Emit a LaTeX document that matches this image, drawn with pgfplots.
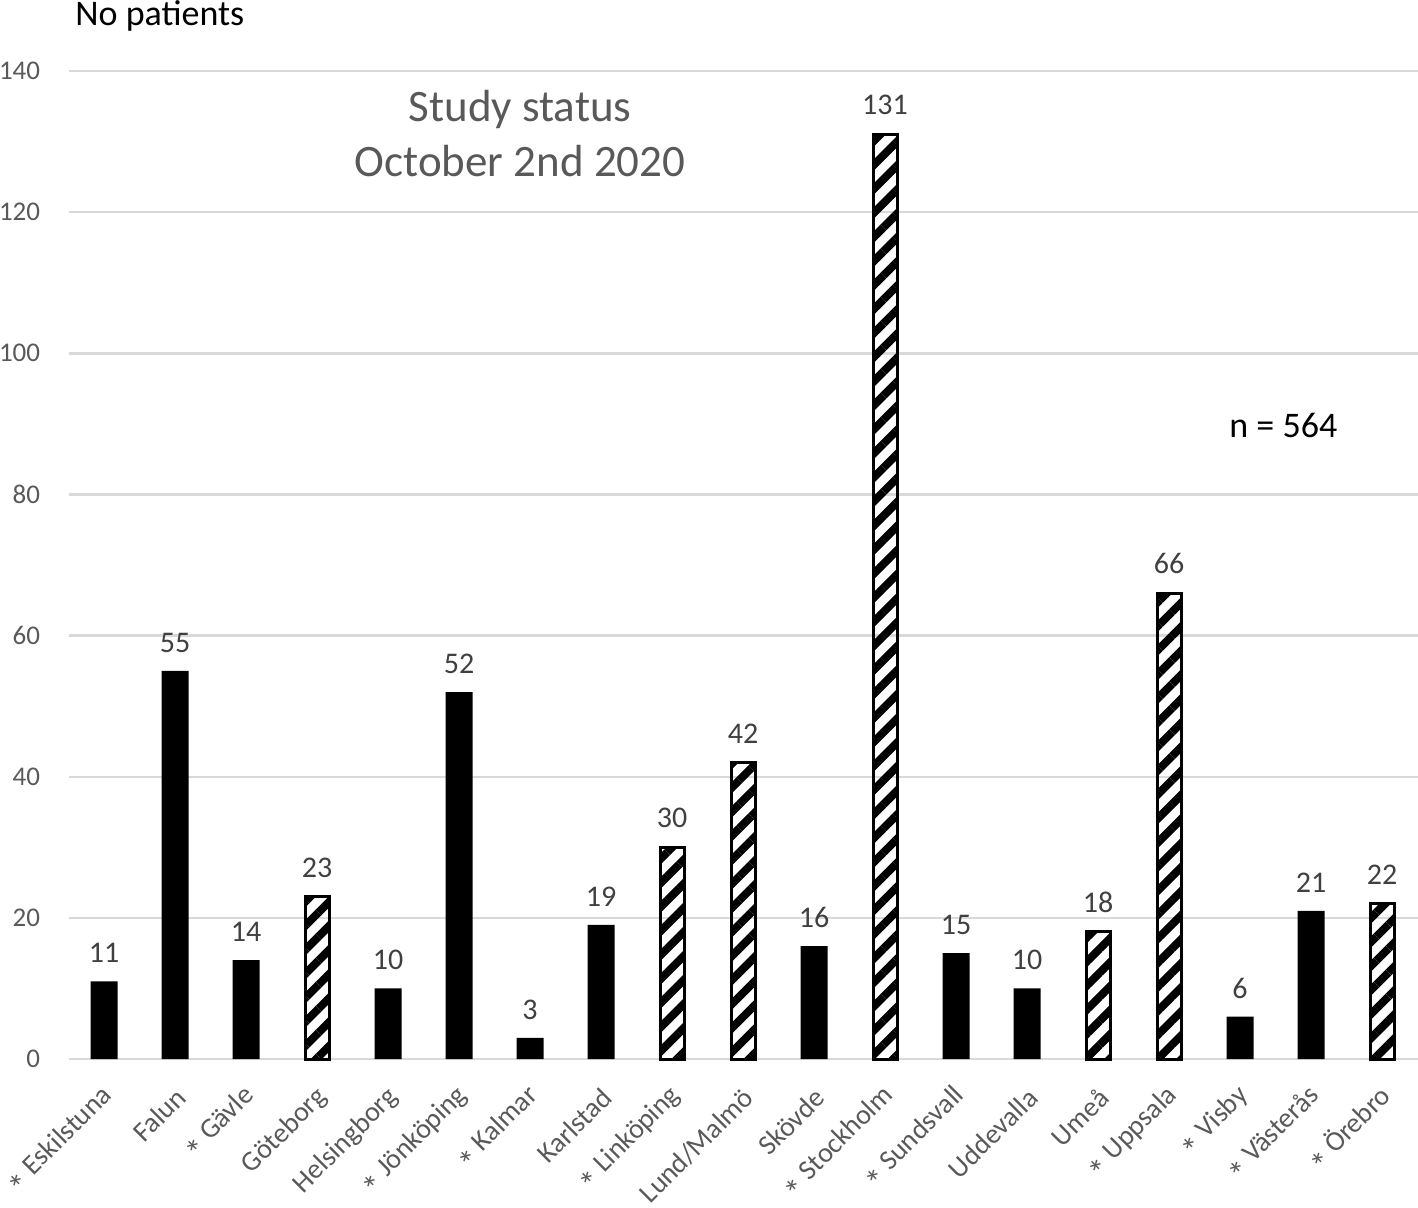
\documentclass[border=0pt]{standalone}
\usepackage{pgfplots}
\pgfplotsset{compat=1.18}
\usepackage{fontspec}
\setmainfont{Carlito}
\usetikzlibrary{patterns.meta}
\definecolor{txtgrey}{HTML}{595959}
\definecolor{valgrey}{HTML}{404040}
\definecolor{gridgrey}{HTML}{D9D9D9}
\newcommand{\st}{\raisebox{-0.35em}{\fontsize{17.5}{18}\selectfont *}}
\begin{document}
\begin{tikzpicture}
\path[use as bounding box] (0,0) rectangle (709pt,-603.5pt);
\begin{axis}[
  at={(34.25pt,-529.5pt)}, anchor=south west,
  scale only axis, width=674.5pt, height=494pt,
  xmin=-0.5, xmax=18.5, ymin=0, ymax=140,
  ytick={0,20,...,140},
  xtick={0,...,18},
  xticklabels={{\st{} Eskilstuna},{Falun},{\st{} Gävle},{Göteborg},{Helsingborg},{\st{} Jönköping},{\st{} Kalmar},{Karlstad},{\st{} Linköping},{Lund/Malmö},{Skövde},{\st{} Stockholm},{\st{} Sundsvall},{Uddevalla},{Umeå},{\st{} Uppsala},{\st{} Visby},{\st{} Västerås},{\st{} Örebro}},
  major tick length=0pt,
  axis line style={draw=none},
  ymajorgrids,
  grid style={gridgrey, line width=1.2pt},
  /pgf/number format/assume math mode=true,
  yticklabel style={font=\fontsize{13.5}{16}\selectfont, text=txtgrey, anchor=east, inner sep=0pt, xshift=-14pt},
  xticklabel style={font=\fontsize{14}{17}\selectfont, text=txtgrey, xshift=3pt, yshift=-17pt, rotate=45, anchor=east, inner sep=0pt},
  ybar, bar shift=0pt,
  nodes near coords,
  nodes near coords style={font=\fontsize{15}{18}\selectfont, text=valgrey, anchor=south, inner sep=0pt, yshift=9pt},
  clip=false,
]
\addplot[fill=black, draw=none, bar width=13.5pt] coordinates {
 (0,11) (1,55) (2,14) (4,10) (5,52) (6,3) (7,19) (10,16) (12,15) (13,10) (16,6) (17,21)
};
\addplot[draw=black, line width=1.5pt, bar width=12pt,
  pattern={Lines[angle=45,distance=8.5pt,line width=4pt]}, pattern color=black] coordinates {
 (3,23) (8,30) (9,42) (11,131) (14,18) (15,66) (18,22)
};
\end{axis}
\node[anchor=base west, inner sep=0pt, font=\fontsize{18}{21}\selectfont] at (37.5pt,-12.5pt) {No patients};
\node[anchor=base, inner sep=0pt, font=\fontsize{22.5}{27}\selectfont, text=txtgrey] at (260pt,-60.5pt) {Study status};
\node[anchor=base, inner sep=0pt, font=\fontsize{22.5}{27}\selectfont, text=txtgrey] at (260pt,-88pt) {October 2nd 2020};
\node[anchor=base west, inner sep=0pt, font=\fontsize{18}{21}\selectfont] at (614.5pt,-218.5pt) {n = 564};
\end{tikzpicture}
\end{document}
